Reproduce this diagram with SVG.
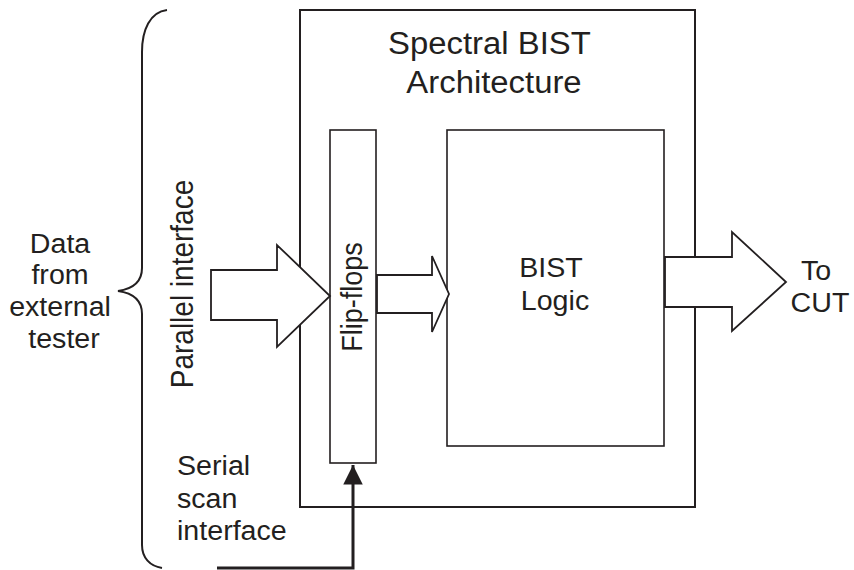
<svg xmlns="http://www.w3.org/2000/svg" width="854" height="570" viewBox="0 0 854 570">
  <style>
    .box { fill: #fff; stroke: #231f20; stroke-width: 1.6; }
    .outer { fill: none; stroke: #231f20; stroke-width: 2; }
    .arrow { fill: #fff; stroke: #231f20; stroke-width: 1.8; stroke-linejoin: miter; }
    .line { fill: none; stroke: #231f20; stroke-width: 2; }
    .wire { fill: none; stroke: #231f20; stroke-width: 3; }
    text { font-family: "Liberation Sans", Arial, sans-serif; fill: #231f20; }
    .lbl { font-size: 27px; }
    .mid { text-anchor: middle; }
  </style>
  <defs>
    <marker id="head" viewBox="0 0 10 10" refX="10" refY="5" markerWidth="6.5" markerHeight="6.5" orient="auto" markerUnits="strokeWidth">
      <path d="M0,0 L10,5 L0,10 Z" fill="#231f20"/>
    </marker>
  </defs>

  <!-- enclosing architecture block -->
  <g id="architecture">
    <rect class="outer" x="300" y="10" width="395" height="497"/>
    <text class="mid" font-size="31" transform="translate(494,0) scale(1.06,1)">
      <tspan x="0" y="54">Spectral BIST</tspan>
      <tspan x="0" y="93">Architecture</tspan>
    </text>
  </g>

  <g id="flipflops">
    <rect class="box" x="330" y="130" width="46" height="333"/>
    <text class="mid" font-size="27" transform="translate(362,297) scale(1.12,1) rotate(-90)">Flip-flops</text>
  </g>

  <g id="bist-logic">
    <rect class="box" x="447" y="130" width="217" height="316"/>
    <text class="lbl mid" transform="translate(555,0) scale(1.06,1)">
      <tspan x="0" y="277">BIST</tspan>
      <tspan x="0" y="310">Logic</tspan>
    </text>
  </g>

  <!-- brace and source labels -->
  <g id="tester">
    <path class="line" d="M167,10 C150,12 142,30 142,52 L142,268 C142,282 132,289 118,291 C132,293 142,300 142,314 L142,545 C142,558 150,566 162,568"/>
    <text class="lbl mid" transform="translate(64,0) scale(1.06,1)">
      <tspan x="0" y="253">Data</tspan>
      <tspan x="0" y="284">from</tspan>
      <tspan x="0" y="316">external</tspan>
      <tspan x="0" y="348">tester</tspan>
    </text>
  </g>

  <g id="parallel-label">
    <text class="mid" font-size="28" transform="translate(193,284) scale(1.12,1) rotate(-90)">Parallel interface</text>
  </g>

  <g id="serial-label">
    <text class="lbl" transform="translate(177,0) scale(1.06,1)">
      <tspan x="0" y="475">Serial</tspan>
      <tspan x="0" y="508">scan</tspan>
      <tspan x="0" y="540">interface</tspan>
    </text>
  </g>

  <g id="cut">
    <text class="lbl mid" transform="translate(820,0) scale(1.06,1)">
      <tspan x="0" y="280">To</tspan>
      <tspan x="0" y="312">CUT</tspan>
    </text>
  </g>

  <!-- connectors -->
  <g id="connectors">
    <polygon class="arrow" points="211,270 277,270 277,245 330,296 277,347 277,320 211,320"/>
    <polygon class="arrow" points="377,275 432,275 432,256 449,294 432,332 432,313 377,313"/>
    <polygon class="arrow" points="665,257 732,257 732,232 786,282 732,331 732,307 665,307"/>
    <path class="wire" d="M217,568 L353,568 L353,465" marker-end="url(#head)"/>
  </g>
</svg>
